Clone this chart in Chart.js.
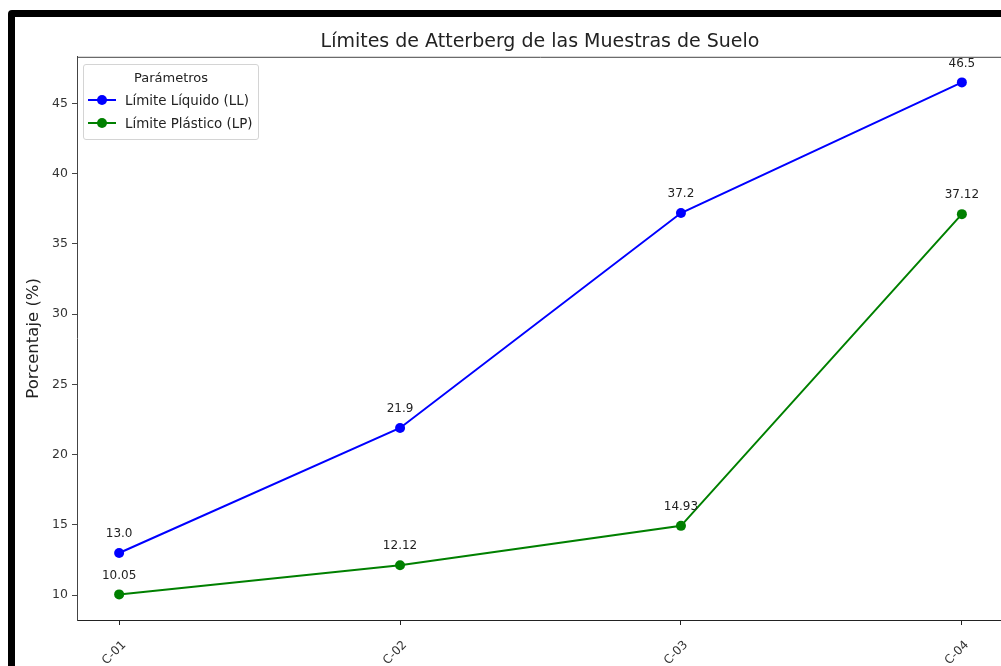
<!DOCTYPE html>
<html>
<head>
<meta charset="utf-8">
<script src="https://cdn.jsdelivr.net/npm/chart.js@4.4.0/dist/chart.umd.min.js"></script>
<style>
  html, body { margin: 0; padding: 0; background: #fff; overflow: hidden; }
  body { width: 1001px; height: 666px; position: relative; font-family: "DejaVu Sans", sans-serif; }
  #frame { position: absolute; left: 8px; top: 10px; width: 1100px; height: 800px; border: 7px solid #000; border-radius: 4px; background: #fff; }
  #wrap { position: absolute; left: 0; top: 0; width: 1080px; height: 700px; }
  #legend { position: absolute; left: 83px; top: 64px; width: 174px; height: 74px; border: 1px solid #d4d4d4; border-radius: 3px; background: rgba(255,255,255,0.85); font-size: 13.4px; color: #222; }
  #legend .title { position: absolute; left: 0; right: 0; top: 5px; text-align: center; line-height: 16px; font-size: 13px; }
  #legend .item { position: absolute; left: 4px; height: 20px; display: flex; align-items: center; white-space: nowrap; }
  #legend .sw { position: relative; width: 28px; height: 20px; margin-right: 9px; }
  #legend .ln { position: absolute; left: 0; right: 0; top: 9px; height: 2px; }
  #legend .dot { position: absolute; left: 9px; top: 5px; width: 10px; height: 10px; border-radius: 50%; }
</style>
</head>
<body>
<div id="frame"></div>
<div id="wrap"><canvas id="chart"></canvas></div>
<div id="legend"></div>
<script>
// muestras y valores (%)
const muestras = ["C-01", "C-02", "C-03", "C-04"];
const limiteLiquido = [13.0, 21.9, 37.2, 46.5];
const limitePlastico = [10.05, 12.12, 14.93, 37.12];
const yTicks = [10, 15, 20, 25, 30, 35, 40, 45];

const series = [
  { label: "Límite Líquido (LL)", values: limiteLiquido, color: "#0000ff", decimals: 1 },
  { label: "Límite Plástico (LP)", values: limitePlastico, color: "#008000", decimals: 2 }
];

// margenes tipo matplotlib (5%)
const allVals = limiteLiquido.concat(limitePlastico);
const vMin = Math.min(...allVals), vMax = Math.max(...allVals);
const yPad = (vMax - vMin) * 0.05;
const xPad = (muestras.length - 1) * 0.05;

const datasets = series.map(s => ({
  label: s.label,
  data: s.values.map((v, i) => ({ x: i, y: v })),
  borderColor: s.color,
  backgroundColor: s.color,
  borderWidth: 2,
  pointRadius: 5,
  pointHoverRadius: 5,
  pointBorderWidth: 0,
  tension: 0,
  decimals: s.decimals
}));

const pointLabels = {
  id: 'pointLabels',
  afterDatasetsDraw(chart) {
    const ctx = chart.ctx;
    ctx.save();
    ctx.font = '12px "DejaVu Sans"';
    ctx.fillStyle = '#222';
    ctx.textAlign = 'center';
    ctx.textBaseline = 'middle';
    chart.data.datasets.forEach((ds, i) => {
      chart.getDatasetMeta(i).data.forEach((pt, j) => {
        ctx.fillText(ds.data[j].y.toFixed(ds.decimals), pt.x, pt.y - 19);
      });
    });
    ctx.restore();
  }
};

const topLine = {
  id: 'topLine',
  afterDraw(chart) {
    const a = chart.chartArea, ctx = chart.ctx;
    ctx.save();
    ctx.strokeStyle = '#444';
    ctx.lineWidth = 1;
    ctx.beginPath();
    ctx.moveTo(a.left, a.top + 0.5);
    ctx.lineTo(a.right, a.top + 0.5);
    ctx.stroke();
    ctx.restore();
  }
};

new Chart(document.getElementById('chart'), {
  type: 'line',
  data: { datasets: datasets },
  plugins: [pointLabels, topLine],
  options: {
    responsive: true,
    maintainAspectRatio: false,
    animation: false,
    layout: { padding: 0 },
    plugins: {
      legend: { display: false },
      tooltip: { enabled: false },
      title: {
        display: true,
        text: 'Límites de Atterberg de las Muestras de Suelo',
        font: { family: 'DejaVu Sans', size: 19, weight: 'normal' },
        color: '#222',
        padding: { top: 31, bottom: 3 }
      }
    },
    scales: {
      x: {
        type: 'linear',
        min: -xPad,
        max: muestras.length - 1 + xPad,
        afterFit(scale) { scale.height = 80; },
        afterBuildTicks(scale) { scale.ticks = muestras.map((m, i) => ({ value: i })); },
        ticks: {
          callback: (v) => muestras[v],
          minRotation: 45,
          maxRotation: 45,
          labelOffset: 5,
          padding: 13,
          font: { family: 'DejaVu Sans', size: 12 },
          color: '#333'
        },
        grid: { display: true, drawOnChartArea: false, drawTicks: true, tickLength: 5, color: '#222' },
        border: { display: true, color: '#222', width: 1 }
      },
      y: {
        min: vMin - yPad,
        max: vMax + yPad,
        afterFit(scale) { scale.width = 77; },
        afterBuildTicks(scale) { scale.ticks = yTicks.map(v => ({ value: v })); },
        ticks: {
          padding: 4,
          font: { family: 'DejaVu Sans', size: 12.5 },
          color: '#333'
        },
        grid: { display: true, drawOnChartArea: false, drawTicks: true, tickLength: 5, color: '#444' },
        border: { display: true, color: '#444', width: 1 },
        title: {
          display: true,
          text: 'Porcentaje (%)',
          font: { family: 'DejaVu Sans', size: 16.5 },
          color: '#222',
          padding: { top: 24, bottom: 0 }
        }
      },
      // eje vacío a la derecha: reserva el espacio fuera de la ventana
      yRight: {
        position: 'right',
        afterFit(scale) { scale.width = 76; },
        ticks: { display: false },
        grid: { display: false },
        border: { display: false }
      }
    }
  }
});

// leyenda
const legend = document.getElementById('legend');
legend.innerHTML = '<div class="title">Parámetros</div>' + series.map((s, i) =>
  '<div class="item" style="top:' + (25 + i * 23) + 'px">' +
  '<span class="sw"><span class="ln" style="background:' + s.color + '"></span>' +
  '<span class="dot" style="background:' + s.color + '"></span></span>' + s.label + '</div>'
).join('');
</script>
</body>
</html>
